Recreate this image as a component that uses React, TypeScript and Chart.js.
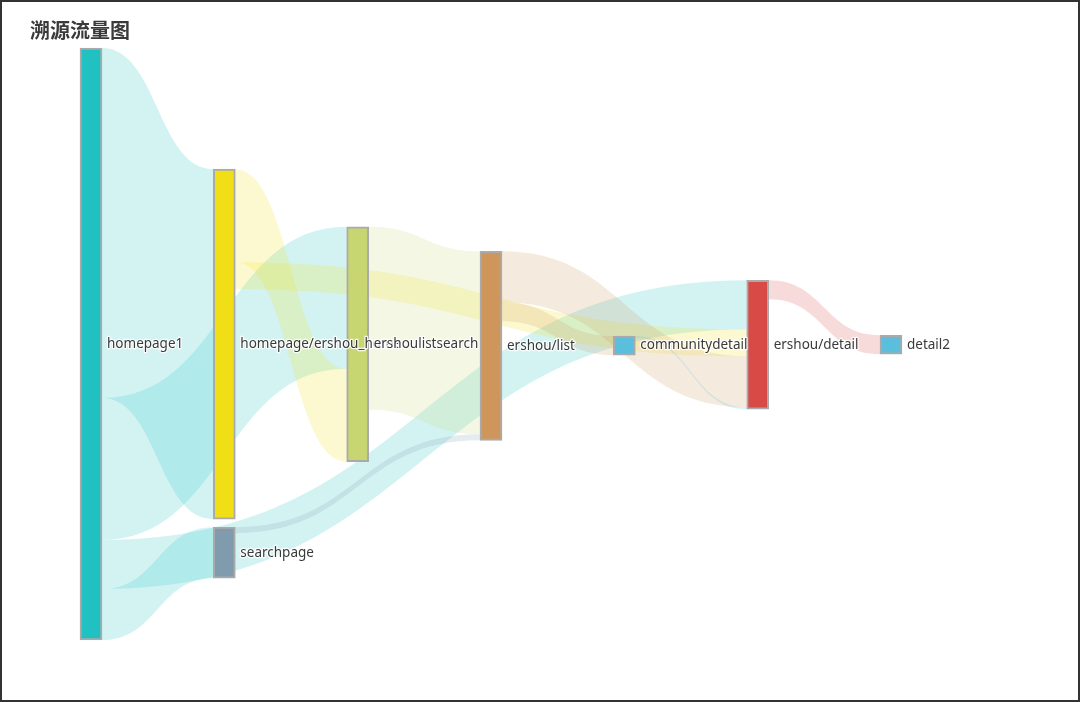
import React, { useEffect, useRef } from 'react';
import { Chart, registerables } from 'chart.js';

Chart.register(...registerables);

const TITLE = '溯源流量图';

const nodeNames = [
  'homepage1',
  'homepage/ershou_home',
  'searchpage',
  'ershoulistsearch',
  'ershou/list',
  'communitydetail',
  'ershou/detail',
  'detail2',
];
const nodeColors = ['#22c1c1', '#f0df16', '#7f9bad', '#c8d672', '#cf965c', '#5bbedd', '#d84a46', '#5bbedd'];

const linkSources = [
  'homepage1', 'homepage1', 'homepage1', 'homepage1',
  'homepage/ershou_home', 'homepage/ershou_home',
  'ershoulistsearch', 'searchpage',
  'ershou/list', 'ershou/list',
  'communitydetail', 'ershou/detail',
];
const linkTargets = [
  'homepage/ershou_home', 'ershoulistsearch', 'ershou/detail', 'searchpage',
  'ershoulistsearch', 'ershou/detail',
  'ershou/list', 'ershou/list',
  'ershou/detail', 'communitydetail',
  'ershou/detail', 'detail2',
];
const linkValues = [350, 142, 49, 51, 93, 27, 183, 6, 51, 19, 2, 19];

type LNode = { name: string; idx: number; value: number; depth: number; y: number; dy: number; ins: LLink[]; outs: LLink[] };
type LLink = { s: LNode; t: LNode; v: number; dy: number; sy: number; ty: number };

// ECharts-like sankey layout (depths by topological order, relaxation of vertical positions)
function computeLayout(H: number, gap: number, iterations = 32) {
  const nodes: LNode[] = nodeNames.map((name, idx) => ({ name, idx, value: 0, depth: 0, y: 0, dy: 0, ins: [], outs: [] }));
  const byName = new Map(nodes.map((n) => [n.name, n] as [string, LNode]));
  const links: LLink[] = linkValues.map((v, i) => {
    const l: LLink = { s: byName.get(linkSources[i])!, t: byName.get(linkTargets[i])!, v, dy: 0, sy: 0, ty: 0 };
    l.s.outs.push(l);
    l.t.ins.push(l);
    return l;
  });
  const sumV = (ls: LLink[]) => ls.reduce((a, l) => a + l.v, 0);
  nodes.forEach((n) => (n.value = Math.max(sumV(n.ins), sumV(n.outs))));

  const indeg = nodes.map((n) => n.ins.length);
  let zero = nodes.filter((_, i) => indeg[i] === 0);
  let x = 0;
  while (zero.length) {
    const next: LNode[] = [];
    for (const n of zero) {
      n.depth = x;
      for (const l of n.outs) {
        if (--indeg[l.t.idx] === 0 && next.indexOf(l.t) < 0) next.push(l.t);
      }
    }
    x++;
    zero = next;
  }
  const maxDepth = x - 1;
  nodes.forEach((n) => {
    if (!n.outs.length) n.depth = maxDepth;
  });

  const cols: LNode[][] = [];
  for (let d = 0; d <= maxDepth; d++) cols.push(nodes.filter((n) => n.depth === d));
  const ky = Math.min(
    ...cols.filter((c) => c.length).map((c) => (H - (c.length - 1) * gap) / c.reduce((a, n) => a + n.value, 0))
  );
  cols.forEach((c) => c.forEach((n, i) => { n.y = i; n.dy = n.value * ky; }));
  links.forEach((l) => (l.dy = l.v * ky));

  const center = (n: LNode) => n.y + n.dy / 2;
  const resolve = () => {
    cols.forEach((c) => {
      if (!c.length) return;
      c.sort((a, b) => a.y - b.y);
      let y0 = 0;
      let node = c[0];
      for (let i = 0; i < c.length; i++) {
        node = c[i];
        const dy = y0 - node.y;
        if (dy > 0) node.y += dy;
        y0 = node.y + node.dy + gap;
      }
      let dy = y0 - gap - H;
      if (dy > 0) {
        node.y -= dy;
        y0 = node.y;
        for (let i = c.length - 2; i >= 0; --i) {
          node = c[i];
          dy = node.y + node.dy + gap - y0;
          if (dy > 0) node.y -= dy;
          y0 = node.y;
        }
      }
    });
  };
  const relaxRL = (alpha: number) => {
    cols.slice().reverse().forEach((c) => c.forEach((n) => {
      if (n.outs.length) {
        const y = n.outs.reduce((a, l) => a + center(l.t) * l.v, 0) / sumV(n.outs);
        n.y += (y - center(n)) * alpha;
      }
    }));
  };
  const relaxLR = (alpha: number) => {
    cols.forEach((c) => c.forEach((n) => {
      if (n.ins.length) {
        const y = n.ins.reduce((a, l) => a + center(l.s) * l.v, 0) / sumV(n.ins);
        n.y += (y - center(n)) * alpha;
      }
    }));
  };

  resolve();
  for (let alpha = 1, it = iterations; it > 0; it--) {
    alpha *= 0.99;
    relaxRL(alpha);
    resolve();
    relaxLR(alpha);
    resolve();
  }

  nodes.forEach((n) => {
    n.outs.sort((a, b) => a.t.y - b.t.y);
    n.ins.sort((a, b) => a.s.y - b.s.y);
  });
  nodes.forEach((n) => {
    let sy = 0;
    n.outs.forEach((l) => { l.sy = sy; sy += l.v; });
    let ty = 0;
    n.ins.forEach((l) => { l.ty = ty; ty += l.v; });
  });

  return {
    nodes: nodes.map((n) => ({ name: n.name, depth: n.depth, top: n.y / ky, value: n.value })),
    links: links.map((l) => ({ s: l.s.idx, t: l.t.idx, v: l.v, sy: l.sy, ty: l.ty })),
    extent: H / ky,
    maxDepth,
  };
}

function hexToRgba(hex: string, a: number) {
  const h = hex.replace('#', '');
  const r = parseInt(h.slice(0, 2), 16);
  const g = parseInt(h.slice(2, 4), 16);
  const b = parseInt(h.slice(4, 6), 16);
  return `rgba(${r},${g},${b},${a})`;
}

export default function App() {
  const ref = useRef<HTMLCanvasElement>(null);

  useEffect(() => {
    const canvas = ref.current;
    if (!canvas) return;
    const layout = computeLayout(592, 8);

    const sankeyPlugin = {
      id: 'sankeyLinks',
      beforeDatasetsDraw(chart: any) {
        const ctx = chart.ctx as CanvasRenderingContext2D;
        const yS = chart.scales.y;
        const els = chart.getDatasetMeta(0).data as any[];
        ctx.save();
        layout.links.forEach((l) => {
          const se = els[l.s];
          const te = els[l.t];
          const x1 = se.x + se.width / 2;
          const x2 = te.x - te.width / 2;
          const sTop = layout.nodes[l.s].top;
          const tTop = layout.nodes[l.t].top;
          const y1 = yS.getPixelForValue(sTop + l.sy);
          const y1b = yS.getPixelForValue(sTop + l.sy + l.v);
          const y2 = yS.getPixelForValue(tTop + l.ty);
          const y2b = yS.getPixelForValue(tTop + l.ty + l.v);
          const cx = (x1 + x2) / 2;
          ctx.beginPath();
          ctx.moveTo(x1, y1);
          ctx.bezierCurveTo(cx, y1, cx, y2, x2, y2);
          ctx.lineTo(x2, y2b);
          ctx.bezierCurveTo(cx, y2b, cx, y1b, x1, y1b);
          ctx.closePath();
          ctx.fillStyle = hexToRgba(nodeColors[l.s], 0.2);
          ctx.fill();
        });
        ctx.restore();
      },
      afterDatasetsDraw(chart: any) {
        const ctx = chart.ctx as CanvasRenderingContext2D;
        const els = chart.getDatasetMeta(0).data as any[];
        ctx.save();
        ctx.font = '13.5px "Noto Sans", "Open Sans", sans-serif';
        ctx.textBaseline = 'middle';
        ctx.textAlign = 'left';
        ctx.lineJoin = 'round';
        layout.nodes.forEach((n, i) => {
          const e = els[i];
          const lx = e.x + e.width / 2 + 5;
          const ly = (e.y + e.base) / 2;
          ctx.strokeStyle = 'rgba(255,255,255,0.85)';
          ctx.lineWidth = 2.5;
          ctx.strokeText(n.name, lx, ly);
          ctx.fillStyle = '#3a3a3a';
          ctx.fillText(n.name, lx, ly);
        });
        ctx.font = 'bold 20px "Noto Sans CJK SC", sans-serif';
        ctx.fillStyle = '#3a3a3a';
        ctx.textBaseline = 'middle';
        ctx.fillText(TITLE, 28, 28);
        ctx.restore();
      },
    };

    const chart = new Chart(canvas, {
      type: 'bar',
      data: {
        datasets: [
          {
            data: layout.nodes.map((n) => ({ x: n.depth, y: [n.top, n.top + n.value] })) as any,
            backgroundColor: nodeColors,
            borderColor: '#aaaaaa',
            borderWidth: 2,
            borderSkipped: false,
            barThickness: 22,
            clip: false as any,
          },
        ],
      },
      options: {
        animation: false,
        responsive: false,
        events: [],
        layout: { padding: { left: 89, right: 187, top: 46, bottom: 60 } },
        scales: {
          x: { type: 'linear', min: 0, max: layout.maxDepth, display: false, offset: false },
          y: { type: 'linear', min: 0, max: layout.extent, reverse: true, display: false },
        },
        plugins: {
          legend: { display: false },
          tooltip: { enabled: false },
          title: { display: false },
        },
      },
      plugins: [sankeyPlugin],
    });
    return () => chart.destroy();
  }, []);

  return (
    <div
      style={{
        position: 'fixed',
        left: 0,
        top: 0,
        width: 1080,
        height: 702,
        border: '2px solid #333',
        boxSizing: 'border-box',
        background: '#fff',
      }}
    >
      <canvas ref={ref} width={1076} height={698} style={{ display: 'block' }} />
    </div>
  );
}
